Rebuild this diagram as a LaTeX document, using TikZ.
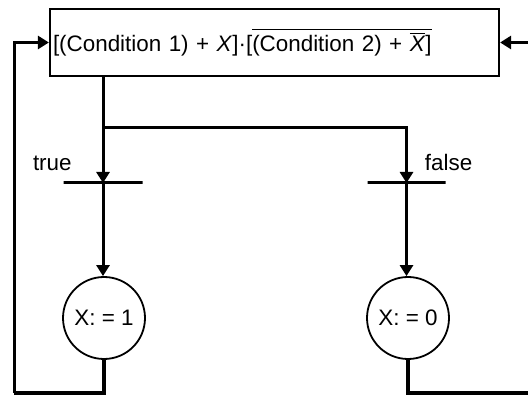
\documentclass[tikz,border=0pt]{standalone}
\usepackage{fontspec}
\setmainfont{Liberation Sans}
\usetikzlibrary{positioning, arrows.meta}

\begin{document}
\begin{tikzpicture}[
    font=\fontsize{11.2}{13}\selectfont,
    cond/.style={draw, line width=1.1pt, minimum width=224.5pt, minimum height=33.5pt,
      text width=221.5pt, align=left, inner xsep=1.5pt},
    bar/.style={draw, line width=1.5pt, minimum height=0pt, inner sep=0pt},
    assign/.style={draw, circle, line width=0.9pt, minimum size=41pt, inner sep=0pt},
    flow/.style={line width=1.5pt, -{Triangle[length=5.5pt, width=6.5pt]}},
    back/.style={line width=1.6pt},
    lbl/.style={inner sep=0pt}
  ]
  \useasboundingbox (0,0) rectangle (264pt,197.5pt);
  \node[cond] (c) at (137.25pt,176.25pt)
    {[(Condition 1) + \textit{X}]\textperiodcentered[$\overline{\mbox{(Condition 2) + $\overline{\mbox{\textit{X}}}$]}}$};
  \node[bar, minimum width=39.5pt] (t1) at (51.5pt,106pt) {};
  \node[bar, minimum width=39pt] (t2) at (203.25pt,106pt) {};
  \node[assign] (x1) at (52pt,38.5pt) {X: = 1};
  \node[assign] (x0) at (204pt,38.5pt) {X: = 0};
  \node[lbl, above left=6pt and 15.5pt of t1.center] (lt) {true};
  \node[lbl, above right=6pt and 9pt of t2.center] (lf) {false};
  \coordinate (s) at (51.5pt,133.5pt);
  \coordinate (bl) at (7pt,1pt);
  \coordinate (br) at (266pt,1pt);
  \coordinate (in) at (266pt,176.25pt);
  \draw[flow] (c.south -| t1) -- (t1.center);
  \draw[flow] (t1.center) -- (x1.north -| t1);
  \draw[flow] (s) -| (t2.center);
  \draw[flow] (t2.center) -- (x0.north -| t2);
  \draw[back] (x1.south) |- (bl);
  \draw[flow] (bl) |- (c.west);
  \draw[back] (x0.south) |- (br);
  \draw[flow] (in) -- (c.east);
\end{tikzpicture}
\end{document}
